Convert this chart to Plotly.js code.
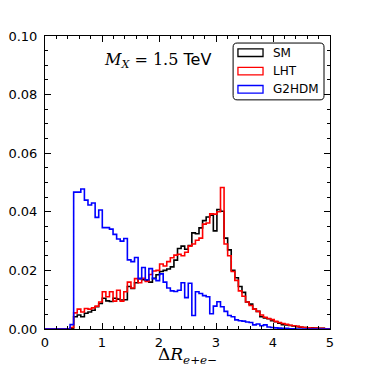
<!DOCTYPE html>
<html>
<head>
<meta charset="utf-8">
<script src="https://cdn.plot.ly/plotly-3.0.1.min.js"></script>
<style>
  html, body { margin: 0; padding: 0; background: #fff; }
  #chart { width: 367px; height: 367px; }
</style>
</head>
<body>
<div id="chart"></div>
<script>
// Step histograms of Delta R(e+e-) for M_X = 1.5 TeV.
// Bins are pi/50 wide (100 bins over 0..2pi); only 0..5 is shown.
const BIN_W = Math.PI / 50;

// normalised counts per bin, bin k covers [k*BIN_W, (k+1)*BIN_W]
const sm = [
  0, 0, 0, 0, 0, 0, 0, 0.0003, 0.0042, 0.0048,
  0.0042, 0.0054, 0.0058, 0.0064, 0.0076, 0.0087, 0.0105, 0.0096, 0.0094, 0.0105,
  0.0102, 0.0099, 0.0100, 0.0145, 0.0138, 0.0158, 0.0172, 0.0168, 0.0166, 0.0160,
  0.0173, 0.0185, 0.0196, 0.0200, 0.0205, 0.0212, 0.0235, 0.0275, 0.0283, 0.0272,
  0.0285, 0.0328, 0.0325, 0.0345, 0.0370, 0.0382, 0.0388, 0.0335, 0.0408, 0.0402,
  0.0310, 0.0270, 0.0200, 0.0175, 0.0145, 0.0125, 0.0092, 0.0085, 0.0068, 0.0060,
  0.0042, 0.0038, 0.0035, 0.0028, 0.0025, 0.0020, 0.0015, 0.0014, 0.0012, 0.0010,
  0.0008, 0.0006, 0.0005, 0.0004, 0.0004, 0.0003, 0.0002, 0.0002, 0.0001, 0.0001,
];
const lht = [
  0, 0, 0, 0, 0, 0, 0, 0.0005, 0.0055, 0.0068,
  0.0058, 0.0070, 0.0068, 0.0072, 0.0078, 0.0092, 0.0127, 0.0110, 0.0127, 0.0095,
  0.0132, 0.0095, 0.0127, 0.0160, 0.0140, 0.0172, 0.0158, 0.0173, 0.0162, 0.0186,
  0.0198, 0.0200, 0.0222, 0.0215, 0.0230, 0.0243, 0.0252, 0.0255, 0.0250, 0.0262,
  0.0283, 0.0290, 0.0303, 0.0310, 0.0358, 0.0362, 0.0393, 0.0392, 0.0400, 0.0483,
  0.0290, 0.0250, 0.0196, 0.0166, 0.0130, 0.0112, 0.0092, 0.0080, 0.0068, 0.0060,
  0.0048, 0.0040, 0.0036, 0.0032, 0.0026, 0.0022, 0.0019, 0.0016, 0.0013, 0.0011,
  0.0009, 0.0007, 0.0005, 0.0004, 0.0003, 0.0003, 0.0002, 0.0002, 0.0001, 0.0001,
];
const g2hdm = [
  0, 0, 0, 0, 0, 0, 0, 0.0015, 0.0467, 0.0467,
  0.0478, 0.0440, 0.0423, 0.0430, 0.0381, 0.0406, 0.0346, 0.0346, 0.0341, 0.0323,
  0.0307, 0.0300, 0.0309, 0.0236, 0.0230, 0.0244, 0.0172, 0.0210, 0.0168, 0.0206,
  0.0172, 0.0165, 0.0188, 0.0160, 0.0140, 0.0130, 0.0128, 0.0132, 0.0158, 0.0107,
  0.0156, 0.0046, 0.0127, 0.0121, 0.0114, 0.0110, 0.0052, 0.0078, 0.0093, 0.0076,
  0.0060, 0.0046, 0.0042, 0.0031, 0.0028, 0.0027, 0.0024, 0.0022, 0.0014, 0.0017,
  0.0011, 0.0014, 0.0007, 0.0005, 0.0004, 0.0003, 0.0002, 0.0002, 0.0001, 0.0001,
  0, 0, 0, 0, 0, 0, 0, 0, 0, 0,
];

const SERIES = [
  { name: 'SM', values: sm, color: '#000000' },
  { name: 'LHT', values: lht, color: '#ff0000' },
  { name: 'G2HDM', values: g2hdm, color: '#0000ff' },
];

const xTickVals = [0, 1, 2, 3, 4, 5];
const yTickVals = [0, 0.02, 0.04, 0.06, 0.08, 0.10];

// step outline like matplotlib histtype='step'
function stepTrace(s) {
  const x = [0], y = [0];
  s.values.forEach((v, k) => { x.push(k * BIN_W); y.push(v); });
  x.push(s.values.length * BIN_W); y.push(0);
  return {
    x, y, type: 'scatter', mode: 'lines', name: s.name,
    line: { shape: 'hv', color: s.color, width: 1.6 },
    showlegend: false, hoverinfo: 'skip',
  };
}
const traces = SERIES.map(stepTrace);

const SANS = 'DejaVu Sans, sans-serif';
const SERIF = 'DejaVu Serif, serif';

// rounded legend frame (paper units, ~4px corner radius)
function roundedRect(x0, y0, x1, y1, rx, ry) {
  return `M${x0 + rx},${y0} L${x1 - rx},${y0} Q${x1},${y0} ${x1},${y0 + ry} ` +
    `L${x1},${y1 - ry} Q${x1},${y1} ${x1 - rx},${y1} L${x0 + rx},${y1} ` +
    `Q${x0},${y1} ${x0},${y1 - ry} L${x0},${y0 + ry} Q${x0},${y0} ${x0 + rx},${y0} Z`;
}

// hand-made legend: outlined patches like the matplotlib step legend
const shapes = [{
  type: 'path', xref: 'paper', yref: 'paper',
  path: roundedRect(0.66, 0.782, 0.979, 0.976, 0.014, 0.014),
  line: { color: '#000', width: 1 }, fillcolor: '#fff', layer: 'above',
}];
const annotations = [];
const legendRows = [0.943, 0.880, 0.818];
SERIES.forEach((s, i) => {
  const yc = legendRows[i];
  shapes.push({
    type: 'rect', xref: 'paper', yref: 'paper',
    x0: 0.677, x1: 0.765, y0: yc - 0.013, y1: yc + 0.013,
    line: { color: s.color, width: 1.3 }, fillcolor: 'rgba(0,0,0,0)', layer: 'above',
  });
  annotations.push({
    xref: 'paper', yref: 'paper', x: 0.792, y: yc, xanchor: 'left', yanchor: 'middle',
    text: s.name, showarrow: false, font: { family: SANS, size: 12, color: '#000' },
  });
});
annotations.push({
  xref: 'paper', yref: 'paper', x: 0.393, y: 0.918, xanchor: 'center', yanchor: 'middle',
  showarrow: false,
  text: '<span style="font-family:DejaVu Serif"><i>M</i><sub><i>X</i></sub> = 1.5</span> TeV',
  font: { family: SANS, size: 16, color: '#000' },
});
// x-axis label, placed just below the tick labels
annotations.push({
  xref: 'paper', yref: 'paper', x: 0.5, y: -0.092, xanchor: 'center', yanchor: 'middle',
  showarrow: false,
  text: 'Δ<i>R</i><sub><i>e</i>+<i>e</i>−</sub>',
  font: { family: SERIF, size: 17, color: '#000' },
});

const axisBase = {
  showgrid: false, zeroline: false, showline: true, linecolor: '#000', linewidth: 1,
  mirror: 'allticks', ticks: 'inside', ticklen: 6, tickwidth: 1, tickcolor: '#000',
  tickfont: { family: SANS, size: 13, color: '#000' },
};

const layout = {
  width: 367, height: 367,
  margin: { l: 45, r: 37, t: 36, b: 38 },
  paper_bgcolor: '#fff', plot_bgcolor: '#fff',
  showlegend: false,
  xaxis: {
    ...axisBase, range: [0, 5], tickvals: xTickVals, ticktext: xTickVals.map(String),
    ticklabelstandoff: 1,
    minor: { dtick: 0.2, ticks: 'inside', ticklen: 3, tickcolor: '#000', showgrid: false },
  },
  yaxis: {
    ...axisBase, range: [0, 0.1], tickvals: yTickVals, tickformat: '.2f',
    ticklabelstandoff: 4,
    minor: { dtick: 0.005, ticks: 'inside', ticklen: 3, tickcolor: '#000', showgrid: false },
  },
  shapes, annotations,
};

Plotly.newPlot('chart', traces, layout, { staticPlot: true, displayModeBar: false });
</script>
</body>
</html>
